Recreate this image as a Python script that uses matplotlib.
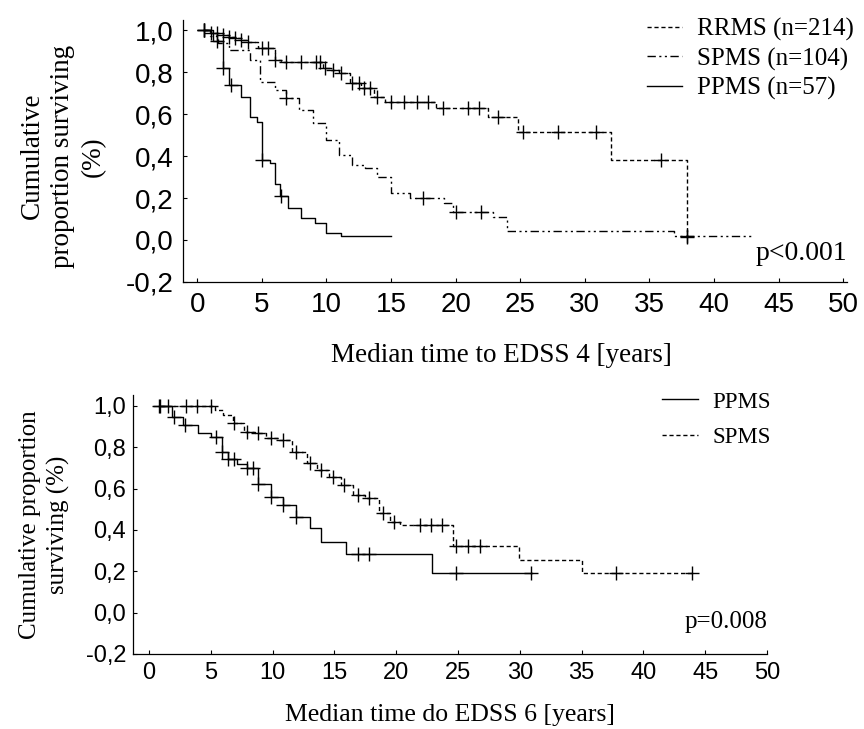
import numpy as np
import matplotlib
matplotlib.use("Agg")
import matplotlib.pyplot as plt
from matplotlib.ticker import FuncFormatter

# ---- EDSS 4 (top panel) ----
rrms4_times = [0.5, 1.1, 2.0, 2.5, 2.9, 3.4, 3.9, 4.7, 6.0, 6.5, 9.7, 10.3, 11.0, 11.8,
               12.7, 13.7, 14.5, 18.5, 22.5, 24.8, 32.0, 37.9]
rrms4_surv = [1.0, 0.987, 0.976, 0.968, 0.96, 0.952, 0.944, 0.913, 0.857, 0.849, 0.817,
              0.81, 0.794, 0.746, 0.722, 0.683, 0.659, 0.627, 0.587, 0.516, 0.381, 0.016]
rrms4_end = 37.9
rrms4_cens = [0.5, 1.1, 1.5, 2.0, 2.5, 2.9, 3.4, 3.9, 5.0, 5.5, 6.0, 6.9, 8.0, 9.2, 9.5,
              9.9, 10.5, 11.1, 12.0, 12.5, 12.9, 13.4, 13.9, 15.0, 16.0, 17.0, 17.9, 19.0,
              21.0, 21.8, 23.3, 25.2, 27.9, 30.9, 35.9, 37.9]

spms4_times = [0.5, 1.0, 1.6, 2.5, 4.1, 4.85, 6.0, 6.9, 7.9, 8.95, 10.0, 11.0, 12.0, 13.0,
               13.9, 15.0, 16.5, 19.1, 19.8, 22.9, 24.0, 36.9]
spms4_surv = [1.0, 0.97, 0.94, 0.905, 0.857, 0.753, 0.714, 0.675, 0.619, 0.556, 0.476,
              0.405, 0.357, 0.341, 0.302, 0.222, 0.20, 0.175, 0.135, 0.111, 0.045, 0.02]
spms4_end = 43.0
spms4_cens = [0.5, 6.9, 17.5, 20.0, 22.0, 37.9]

ppms4_times = [0.5, 1.2, 2.0, 2.5, 3.4, 4.1, 4.6, 5.0, 5.6, 6.0, 6.4, 7.0, 8.0, 9.1,
               10.0, 11.1]
ppms4_surv = [1.0, 0.95, 0.82, 0.74, 0.68, 0.584, 0.563, 0.381, 0.365, 0.267, 0.21,
              0.151, 0.103, 0.079, 0.035, 0.02]
ppms4_end = 15.0
ppms4_cens = [0.5, 1.5, 2.0, 2.6, 5.0, 6.5]

# ---- EDSS 6 (bottom panel) ----
ppms6_times = [0.8, 1.85, 2.75, 3.95, 5.0, 5.9, 6.4, 7.1, 7.9, 8.8, 9.9, 10.8, 11.9,
               13.0, 13.9, 15.9, 22.9]
ppms6_surv = [1.0, 0.948, 0.908, 0.871, 0.85, 0.779, 0.745, 0.719, 0.698, 0.622, 0.561,
              0.521, 0.464, 0.408, 0.343, 0.286, 0.193]
ppms6_end = 31.0
ppms6_cens = [0.8, 2.0, 2.9, 5.4, 5.9, 6.4, 6.9, 7.9, 8.4, 8.8, 9.9, 10.8, 11.9, 16.9,
              17.8, 24.8, 30.9]

spms6_times = [0.9, 5.3, 6.0, 6.8, 7.7, 8.6, 9.5, 10.5, 11.6, 12.8, 13.6, 14.6, 15.5,
               16.5, 17.5, 18.6, 19.5, 20.3, 24.6, 29.9, 35.0]
spms6_surv = [1.0, 0.98, 0.956, 0.916, 0.876, 0.868, 0.844, 0.835, 0.779, 0.722, 0.69,
              0.655, 0.618, 0.569, 0.553, 0.48, 0.44, 0.424, 0.322, 0.254, 0.193]
spms6_end = 44.0
spms6_cens = [0.9, 1.5, 3.0, 3.9, 5.0, 6.9, 7.9, 8.8, 9.9, 10.8, 11.9, 13.0, 13.9, 14.9,
              15.8, 16.9, 17.8, 18.9, 19.8, 21.9, 22.8, 23.7, 24.8, 25.8, 26.8, 37.8, 43.9]

x_ticks = list(range(0, 51, 5))
y_ticks = [-0.2, 0.0, 0.2, 0.4, 0.6, 0.8, 1.0]

SERIF = "Liberation Serif"
SANS = "Liberation Sans"


def km_curve(ax, times, surv, end, cens, dashes, label):
    xs = list(times) + [end]
    ys = list(surv) + [surv[-1]]
    line, = ax.step(xs, ys, where="post", color="black", lw=1.0, label=label)
    if dashes:
        line.set_dashes(dashes)
    idx = np.searchsorted(times, cens, side="right") - 1
    cy = np.array(surv)[np.clip(idx, 0, None)]
    ax.plot(cens, cy, ls="none", marker="+", ms=10, mew=1.0, color="black")
    return line


def style_axes(ax, tick_size, xpad, ypad):
    for s in ("top", "right"):
        ax.spines[s].set_visible(False)
    for s in ("left", "bottom"):
        ax.spines[s].set_linewidth(0.9)
    ax.set_xticks(x_ticks)
    ax.set_yticks(y_ticks)
    ax.yaxis.set_major_formatter(FuncFormatter(lambda v, p: f"{v:.1f}".replace(".", ",")))
    ax.tick_params(direction="in", length=3, width=0.8)
    ax.tick_params(axis="x", pad=xpad)
    ax.tick_params(axis="y", pad=ypad)
    for lab in ax.get_xticklabels() + ax.get_yticklabels():
        lab.set_fontfamily(SANS)
        lab.set_fontsize(tick_size)


fig = plt.figure(figsize=(8.64, 7.29), dpi=100)

# top panel
ax1 = fig.add_axes([0.2118, 0.6132, 0.7685, 0.3594])
ax1.set_xlim(-1.1, 50.3)
ax1.set_ylim(-0.2, 1.048)
l_r = km_curve(ax1, rrms4_times, rrms4_surv, rrms4_end, rrms4_cens, (3, 2), "RRMS (n=214)")
l_s = km_curve(ax1, spms4_times, spms4_surv, spms4_end, spms4_cens, (6, 2.5, 1.5, 2.5, 1.5, 2.5), "SPMS (n=104)")
l_p = km_curve(ax1, ppms4_times, ppms4_surv, ppms4_end, ppms4_cens, None, "PPMS (n=57)")
style_axes(ax1, 20, 7, 7)
ax1.set_xlabel("Median time to EDSS 4 [years]", family=SERIF, fontsize=19.5, va="center")
ax1.xaxis.set_label_coords(0.48, -0.279)
ax1.set_ylabel("Cumulative\nproportion surviving\n(%)", family=SERIF, fontsize=19.5,
               va="center", linespacing=1.3)
ax1.yaxis.set_label_coords(-0.181, 0.48)
ax1.text(1.0, 0.11, "p<0.001", transform=ax1.transAxes, ha="right", va="center",
         family=SERIF, fontsize=20)
ax1.legend(handles=[l_r, l_s, l_p], loc="upper left", bbox_to_anchor=(0.749, 0.975),
           bbox_transform=fig.transFigure, frameon=False, prop={"family": SERIF, "size": 18},
           handlelength=1.4, handletextpad=0.6, labelspacing=0.25, borderpad=0, borderaxespad=0)

# bottom panel
ax2 = fig.add_axes([0.1539, 0.1029, 0.7338, 0.3553])
ax2.set_xlim(-1.3, 50.0)
ax2.set_ylim(-0.2, 1.053)
l_p6 = km_curve(ax2, ppms6_times, ppms6_surv, ppms6_end, ppms6_cens, None, "PPMS")
l_s6 = km_curve(ax2, spms6_times, spms6_surv, spms6_end, spms6_cens, (3, 2), "SPMS")
style_axes(ax2, 17, 6, 5)
ax2.set_xlabel("Median time do EDSS 6 [years]", family=SERIF, fontsize=18.5, va="center")
ax2.xaxis.set_label_coords(0.5, -0.236)
ax2.set_ylabel("Cumulative proportion\nsurviving (%)", family=SERIF, fontsize=18,
               va="center", linespacing=1.35)
ax2.yaxis.set_label_coords(-0.139, 0.5)
ax2.text(1.0, 0.125, "p=0.008", transform=ax2.transAxes, ha="right", va="center",
         family=SERIF, fontsize=18)
ax2.legend(handles=[l_p6, l_s6], loc="upper left", bbox_to_anchor=(0.766, 0.463),
           bbox_transform=fig.transFigure, frameon=False, prop={"family": SERIF, "size": 16.5},
           handlelength=1.6, handletextpad=0.6, labelspacing=0.65, borderpad=0, borderaxespad=0)

fig.savefig("out.png", dpi=100)
